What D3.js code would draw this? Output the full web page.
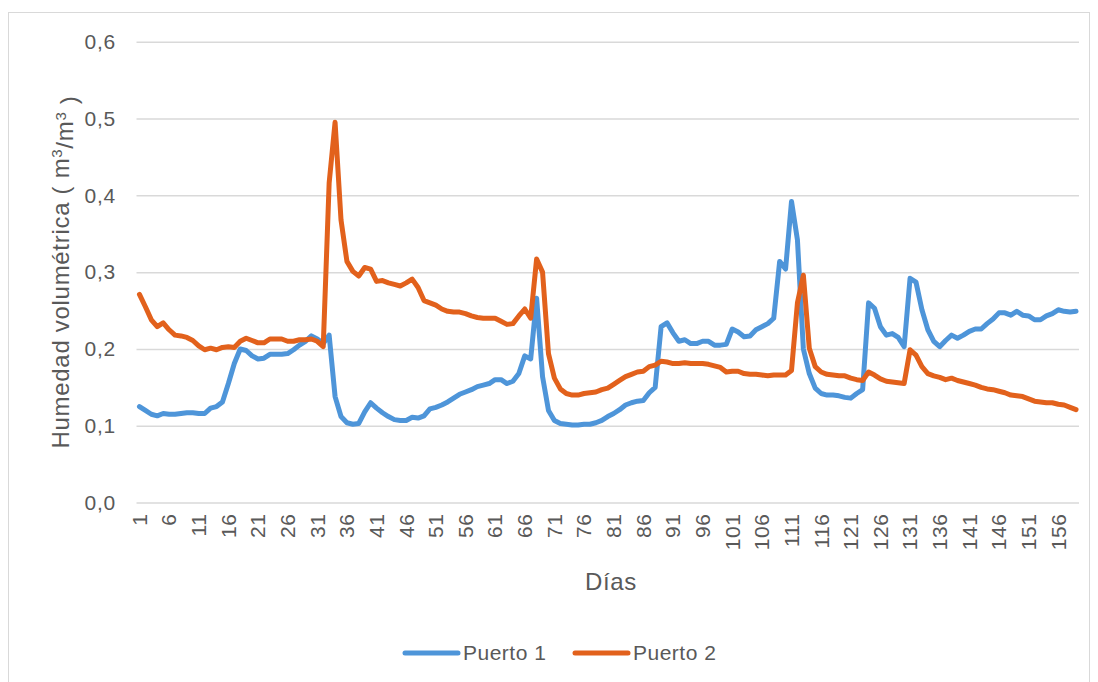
<!DOCTYPE html>
<html>
<head>
<meta charset="utf-8">
<script src="https://cdn.jsdelivr.net/npm/d3@7"></script>
<style>
  html, body { margin: 0; padding: 0; background: #ffffff; }
  svg { display: block; }
  text { font-family: "Liberation Sans", Arial, sans-serif; fill: #595959; }
</style>
</head>
<body>
<svg id="chart" width="1098" height="682"></svg>
<script>
// Daily volumetric moisture readings for two ports
const days = d3.range(1, 160);

const puerto1 = [
  0.125,0.120,0.115,0.113,0.116,0.115,0.115,0.116,0.117,0.117,
  0.116,0.116,0.123,0.125,0.131,0.155,0.181,0.200,0.198,0.191,
  0.187,0.188,0.193,0.193,0.193,0.194,0.199,0.205,0.210,0.217,
  0.213,0.207,0.218,0.138,0.112,0.104,0.102,0.103,0.118,0.130,
  0.123,0.117,0.112,0.108,0.107,0.107,0.111,0.110,0.113,0.122,
  0.124,0.127,0.131,0.136,0.141,0.144,0.147,0.151,0.153,0.155,
  0.160,0.160,0.155,0.158,0.168,0.191,0.187,0.266,0.164,0.120,
  0.107,0.103,0.102,0.101,0.101,0.102,0.102,0.104,0.107,0.112,
  0.116,0.121,0.127,0.130,0.132,0.133,0.143,0.150,0.229,0.234,
  0.221,0.210,0.212,0.207,0.207,0.210,0.210,0.205,0.205,0.206,
  0.226,0.222,0.216,0.217,0.225,0.229,0.233,0.240,0.314,0.304,
  0.392,0.342,0.200,0.168,0.149,0.142,0.140,0.140,0.139,0.137,
  0.136,0.142,0.147,0.260,0.253,0.229,0.218,0.220,0.215,0.203,
  0.292,0.287,0.251,0.225,0.210,0.203,0.211,0.218,0.214,0.218,
  0.223,0.226,0.226,0.233,0.239,0.247,0.247,0.244,0.249,0.244,
  0.243,0.238,0.238,0.243,0.246,0.251,0.249,0.248,0.249
];

const puerto2 = [
  0.271,0.255,0.238,0.229,0.234,0.225,0.218,0.217,0.215,0.211,
  0.204,0.199,0.201,0.199,0.202,0.203,0.202,0.210,0.214,0.211,
  0.208,0.208,0.213,0.213,0.213,0.210,0.210,0.212,0.212,0.213,
  0.210,0.203,0.416,0.495,0.368,0.314,0.301,0.295,0.306,0.304,
  0.288,0.289,0.286,0.284,0.282,0.286,0.291,0.280,0.263,0.260,
  0.257,0.252,0.249,0.248,0.248,0.246,0.243,0.241,0.240,0.240,
  0.240,0.236,0.232,0.233,0.243,0.252,0.240,0.317,0.300,0.194,
  0.162,0.148,0.142,0.140,0.140,0.142,0.143,0.144,0.147,0.149,
  0.154,0.159,0.164,0.167,0.170,0.171,0.177,0.179,0.184,0.183,
  0.181,0.181,0.182,0.181,0.181,0.181,0.180,0.178,0.176,0.170,
  0.171,0.171,0.168,0.167,0.167,0.166,0.165,0.166,0.166,0.166,
  0.172,0.260,0.296,0.201,0.177,0.170,0.167,0.166,0.165,0.165,
  0.162,0.160,0.159,0.170,0.166,0.161,0.158,0.157,0.156,0.155,
  0.199,0.192,0.177,0.168,0.165,0.163,0.160,0.162,0.159,0.157,
  0.155,0.153,0.150,0.148,0.147,0.145,0.143,0.140,0.139,0.138,
  0.135,0.132,0.131,0.130,0.130,0.128,0.127,0.124,0.121
];

const seriesNames = ["Puerto 1", "Puerto 2"];
const seriesColors = ["#4e95d9", "#e2611c"];
const yTicks = [0, 0.1, 0.2, 0.3, 0.4, 0.5, 0.6];
const xTickLabels = days.filter(d => (d - 1) % 5 === 0);

const svg = d3.select("#chart");

// chart frame
svg.append("rect")
  .attr("x", 8.5).attr("y", 12.5)
  .attr("width", 1081).attr("height", 680)
  .attr("fill", "#ffffff")
  .attr("stroke", "#d9d9d9").attr("stroke-width", 1);

const plot = { left: 136.5, right: 1079, top: 41.7, bottom: 502.6 };

const x = d3.scaleBand().domain(days).range([plot.left, plot.right]).paddingInner(0).paddingOuter(0);
const xc = d => x(d) + x.bandwidth() / 2;
const y = d3.scaleLinear().domain([0, 0.6]).range([plot.bottom, plot.top]);

const fmt = v => d3.format(".1f")(v).replace(".", ",");

// horizontal gridlines and value labels
const yAxis = d3.axisLeft(y).tickValues(yTicks).tickFormat(fmt)
  .tickSize(-(plot.right - plot.left)).tickPadding(20);
const gy = svg.append("g").attr("transform", `translate(${plot.left},0)`).call(yAxis);
gy.select(".domain").remove();
gy.selectAll(".tick line").attr("stroke", "#d9d9d9").attr("stroke-width", 1.5);
gy.selectAll(".tick text")
  .attr("x", 116 - plot.left)
  .style("font-size", "21px")
  .style("letter-spacing", "0.8px")
  .style("font-family", "'Liberation Sans', Arial, sans-serif")
  .attr("fill", "#595959");

// category labels, rotated
const xAxis = d3.axisBottom(x).tickValues(xTickLabels).tickSize(0);
const gx = svg.append("g").attr("transform", `translate(0,${plot.bottom})`).call(xAxis);
gx.select(".domain").remove();
gx.selectAll(".tick text")
  .attr("transform", "rotate(-90)")
  .attr("text-anchor", "end")
  .attr("x", -11)
  .attr("y", 0)
  .attr("dy", "0.35em")
  .style("font-size", "21px")
  .style("letter-spacing", "0.5px")
  .style("font-family", "'Liberation Sans', Arial, sans-serif")
  .attr("fill", "#595959");

// series lines
const line = d3.line()
  .x((d, i) => xc(days[i]))
  .y(d => y(d));

[puerto1, puerto2].forEach((vals, k) => {
  svg.append("path")
    .datum(vals)
    .attr("d", line)
    .attr("fill", "none")
    .attr("stroke", seriesColors[k])
    .attr("stroke-width", 5)
    .attr("stroke-linejoin", "round")
    .attr("stroke-linecap", "round");
});

// axis titles
svg.append("text")
  .attr("x", 611).attr("y", 590)
  .attr("text-anchor", "middle")
  .style("font-size", "24px")
  .style("letter-spacing", "0.7px")
  .text("Días");

const yt = svg.append("text")
  .attr("transform", "translate(69,272) rotate(-90)")
  .attr("text-anchor", "middle")
  .style("font-size", "24px")
  .style("letter-spacing", "0.7px");
yt.append("tspan").text("Humedad volumétrica ( m");
yt.append("tspan").attr("dy", "-0.45em").style("font-size", "15px").text("3");
yt.append("tspan").attr("dy", "0.45em").text("/m");
yt.append("tspan").attr("dy", "-0.45em").style("font-size", "15px").text("3");
yt.append("tspan").attr("dy", "0.45em").text(" )");

// legend
const legendX = [405, 575];
seriesNames.forEach((name, k) => {
  const g = svg.append("g").attr("transform", `translate(${legendX[k]},653)`);
  g.append("line")
    .attr("x1", 0).attr("x2", 53).attr("y1", 0).attr("y2", 0)
    .attr("stroke", seriesColors[k]).attr("stroke-width", 5)
    .attr("stroke-linecap", "round");
  g.append("text")
    .attr("x", 58).attr("y", 0).attr("dy", "0.35em")
    .style("font-size", "21px")
    .style("letter-spacing", "0.5px")
    .text(name);
});
</script>
</body>
</html>
